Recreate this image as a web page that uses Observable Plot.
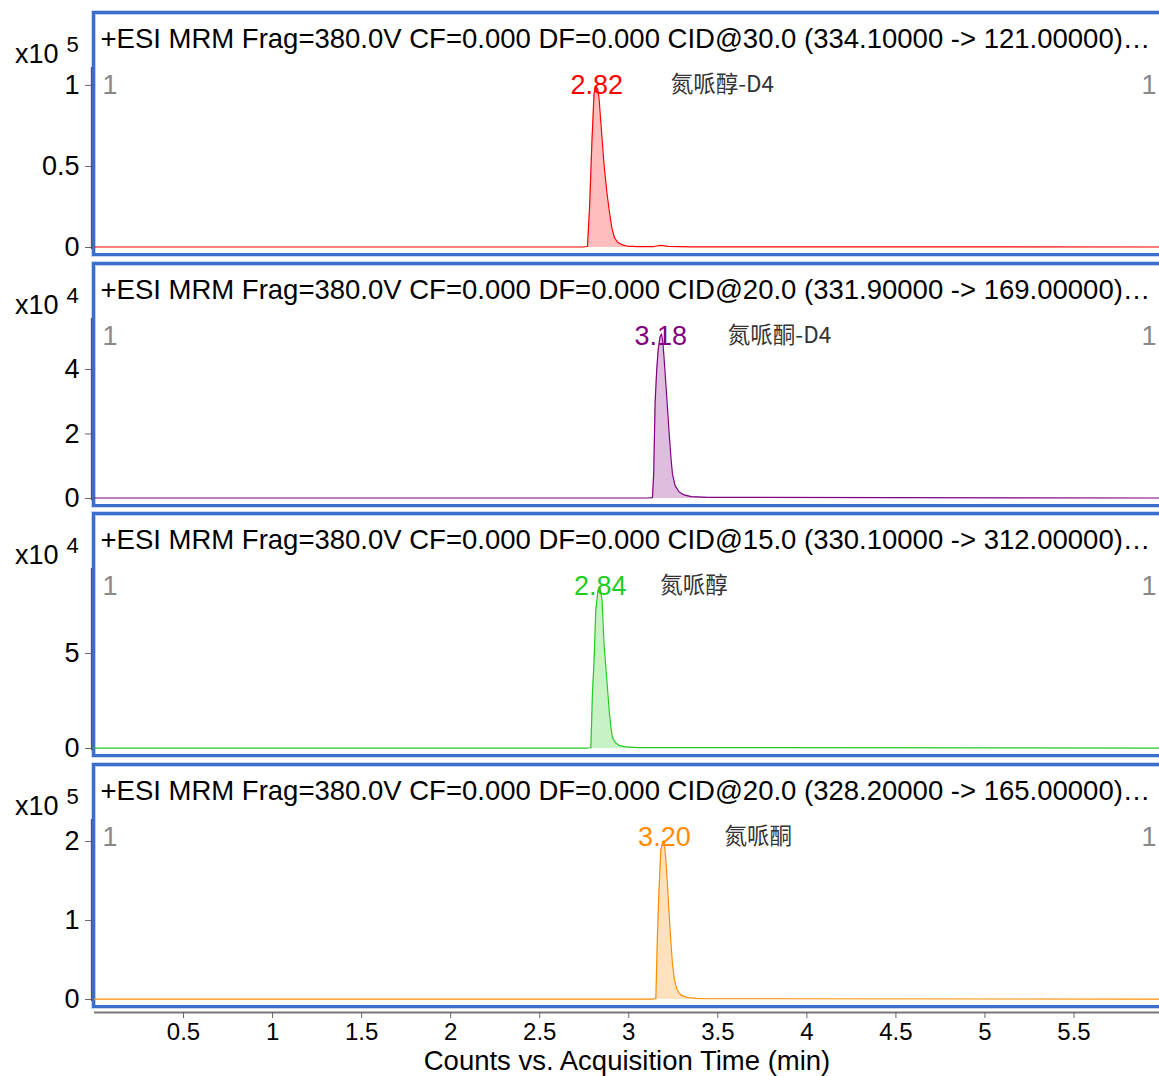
<!DOCTYPE html>
<html>
<head>
<meta charset="utf-8">
<script src="https://cdn.jsdelivr.net/npm/d3@7"></script>
<script src="https://cdn.jsdelivr.net/npm/@observablehq/plot@0.6"></script>
<style>
  body { margin: 0; background: #fff; }
  #wrap { position: relative; width: 1159px; height: 1076px; overflow: hidden; background: #fff; font-family: "Liberation Sans", Arial, sans-serif; }
  .box { position: absolute; left: 92px; width: 1200px; height: 239px; border: 3px solid #3a6fcc; box-shadow: inset 1px 1px 0 #b8cdef, 0 0 0 1px #c9d8f2; }
</style>
</head>
<body>
<div id="wrap"></div>
<script>
// ---------- data ----------
const xDomain = [0, 5.98];
const xTicks = [0.5, 1, 1.5, 2, 2.5, 3, 3.5, 4, 4.5, 5, 5.5];
const xTickLabels = ["0.5", "1", "1.5", "2", "2.5", "3", "3.5", "4", "4.5", "5", "5.5"];
const xTitle = "Counts vs. Acquisition Time (min)";

const headers = [
  "+ESI MRM Frag=380.0V CF=0.000 DF=0.000 CID@30.0 (334.10000 -> 121.00000)…",
  "+ESI MRM Frag=380.0V CF=0.000 DF=0.000 CID@20.0 (331.90000 -> 169.00000)…",
  "+ESI MRM Frag=380.0V CF=0.000 DF=0.000 CID@15.0 (330.10000 -> 312.00000)…",
  "+ESI MRM Frag=380.0V CF=0.000 DF=0.000 CID@20.0 (328.20000 -> 165.00000)…"
];
const exponents = ["5", "4", "4", "5"];
const yMax = [111000, 55800, 94700, 228000];
const yTicks = [[0, 50000, 100000], [0, 20000, 40000], [0, 50000], [0, 100000, 200000]];
const yTickLabels = [["0", "0.5", "1"], ["0", "2", "4"], ["0", "5"], ["0", "1", "2"]];
const retTimes = [2.82, 3.18, 2.84, 3.20];
const retLabels = ["2.82", "3.18", "2.84", "3.20"];
const compounds = ["氮哌醇-D4", "氮哌酮-D4", "氮哌醇", "氮哌酮"];
const peakRanges = [[2.768, 3.05], [3.133, 3.44], [2.787, 3.05], [3.152, 3.42]];

const times1  = [0, 2.74, 2.768, 2.78, 2.793, 2.805, 2.815, 2.825, 2.833, 2.848, 2.862, 2.876, 2.89, 2.905, 2.92, 2.937, 2.96, 2.99, 3.05, 3.14, 3.18, 3.22, 3.35, 5.98];
const counts1 = [300, 300, 600, 25000, 65000, 95000, 99000, 98000, 92000, 70000, 50000, 35000, 23000, 12000, 6000, 3300, 1800, 900, 600, 600, 1300, 700, 400, 300];

const times2  = [0, 3.10, 3.133, 3.14, 3.148, 3.157, 3.165, 3.175, 3.184, 3.192, 3.202, 3.215, 3.227, 3.237, 3.245, 3.26, 3.283, 3.31, 3.35, 3.44, 5.98];
const counts2 = [150, 150, 300, 8000, 30000, 40000, 46000, 50000, 51000, 48000, 40500, 30000, 20000, 12500, 7700, 4000, 2000, 1100, 600, 350, 150];

const times3  = [0, 2.76, 2.787, 2.796, 2.805, 2.815, 2.827, 2.839, 2.85, 2.861, 2.876, 2.89, 2.9, 2.908, 2.925, 2.946, 2.98, 3.05, 5.98];
const counts3 = [200, 200, 400, 29000, 46000, 73000, 83000, 84500, 78000, 55000, 37000, 20000, 11000, 6000, 3000, 1600, 900, 500, 200];

const times4  = [0, 3.13, 3.152, 3.161, 3.17, 3.18, 3.19, 3.198, 3.207, 3.217, 3.226, 3.236, 3.245, 3.255, 3.268, 3.283, 3.3, 3.33, 3.38, 3.42, 5.98];
const counts4 = [500, 500, 1000, 82000, 140000, 189000, 200000, 201000, 180000, 146000, 110000, 74000, 46000, 27000, 14000, 8000, 4500, 2500, 1500, 1000, 500];

const allTimes = [times1, times2, times3, times4];
const allCounts = [counts1, counts2, counts3, counts4];

// ---------- styles ----------
const colors = ["#ff0000", "#800080", "#22cc22", "#ff8c00"];
const nameDx = [74, 67, 60, 60];
const panelTops = [0, 251, 501, 752];
const PANEL_H = 251;
const W = 1159;
const ML = 94;

const wrap = document.getElementById("wrap");

for (let i = 0; i < 4; i++) {
  const box = document.createElement("div");
  box.className = "box";
  box.style.top = (panelTops[i] + 11) + "px";
  wrap.appendChild(box);
}

for (let i = 0; i < 4; i++) {
  const trace = allTimes[i].map((t, k) => ({t, v: allCounts[i][k]}));
  const [a, b] = peakRanges[i];
  const peak = trace.filter(d => d.t >= a && d.t <= b);
  const labelMap = new Map(yTicks[i].map((v, k) => [v, yTickLabels[i][k]]));
  const chart = Plot.plot({
    width: W, height: PANEL_H,
    marginLeft: ML, marginRight: 0, marginTop: 67, marginBottom: 4,
    x: {domain: xDomain, axis: null},
    y: {domain: [0, yMax[i]], axis: null},
    style: {fontFamily: "'Liberation Sans', Arial, sans-serif", background: "transparent", overflow: "visible", color: "#000"},
    marks: [
      Plot.axisY(yTicks[i], {anchor: "left", label: null, tickSize: 6, tickPadding: 6, dx: -3, fontSize: 27, stroke: "#666", fill: "#000", tickFormat: d => labelMap.get(d)}),
      Plot.ruleX([0], {dx: -3, stroke: "#555", strokeWidth: 1.3, insetBottom: -2}),
      Plot.areaY(peak, {x: "t", y: "v", fill: colors[i], fillOpacity: 0.26}),
      Plot.lineY(trace, {x: "t", y: "v", stroke: colors[i], strokeWidth: 1.2}),
      Plot.text([retLabels[i]], {x: () => retTimes[i], text: d => d, frameAnchor: "top", dy: 26, lineAnchor: "bottom", fill: colors[i], fontSize: 27}),
      Plot.text([compounds[i]], {x: () => retTimes[i], text: d => d, frameAnchor: "top", dx: nameDx[i], dy: 24, lineAnchor: "bottom", textAnchor: "start", fill: "#333", fontSize: 22.5, fontFamily: "'Noto Sans CJK SC', sans-serif"}),
      Plot.text(["1"], {frameAnchor: "top-left", dx: 8, dy: 26, lineAnchor: "bottom", textAnchor: "start", fill: "#888", fontSize: 27}),
      Plot.text(["1"], {frameAnchor: "top-right", dx: -3, dy: 26, lineAnchor: "bottom", textAnchor: "end", fill: "#888", fontSize: 27}),
      Plot.text([headers[i]], {frameAnchor: "top-left", dx: 6, dy: -20, lineAnchor: "bottom", textAnchor: "start", fill: "#000", fontSize: 27.5}),
      Plot.text(["x10"], {frameAnchor: "top-left", dx: -36, dy: -5, lineAnchor: "bottom", textAnchor: "end", fill: "#000", fontSize: 27}),
      Plot.text([exponents[i]], {frameAnchor: "top-left", dx: -28, dy: -16, lineAnchor: "bottom", textAnchor: "start", fill: "#000", fontSize: 22})
    ]
  });
  chart.style.position = "absolute";
  chart.style.top = panelTops[i] + "px";
  chart.style.left = "0px";
  wrap.appendChild(chart);
}

const xLabelMap = new Map(xTicks.map((v, k) => [v, xTickLabels[k]]));
const xAxisChart = Plot.plot({
  width: W, height: 73,
  marginLeft: ML, marginRight: 0, marginTop: 8, marginBottom: 64,
  x: {domain: xDomain, axis: null},
  y: {domain: [0, 1], axis: null},
  style: {fontFamily: "'Liberation Sans', Arial, sans-serif", background: "transparent", overflow: "visible", color: "#000"},
  marks: [
    Plot.ruleY([0], {stroke: "#777", strokeWidth: 2}),
    Plot.axisX(xTicks, {anchor: "bottom", label: null, tickSize: 6, tickPadding: 4, stroke: "#666", fill: "#000", fontSize: 24, tickFormat: d => xLabelMap.get(d)}),
    Plot.text([xTitle], {text: d => d, frameAnchor: "bottom", dy: 57, lineAnchor: "bottom", fill: "#000", fontSize: 27.5})
  ]
});
xAxisChart.style.position = "absolute";
xAxisChart.style.top = "1003px";
xAxisChart.style.left = "0px";
wrap.appendChild(xAxisChart);
</script>
</body>
</html>
